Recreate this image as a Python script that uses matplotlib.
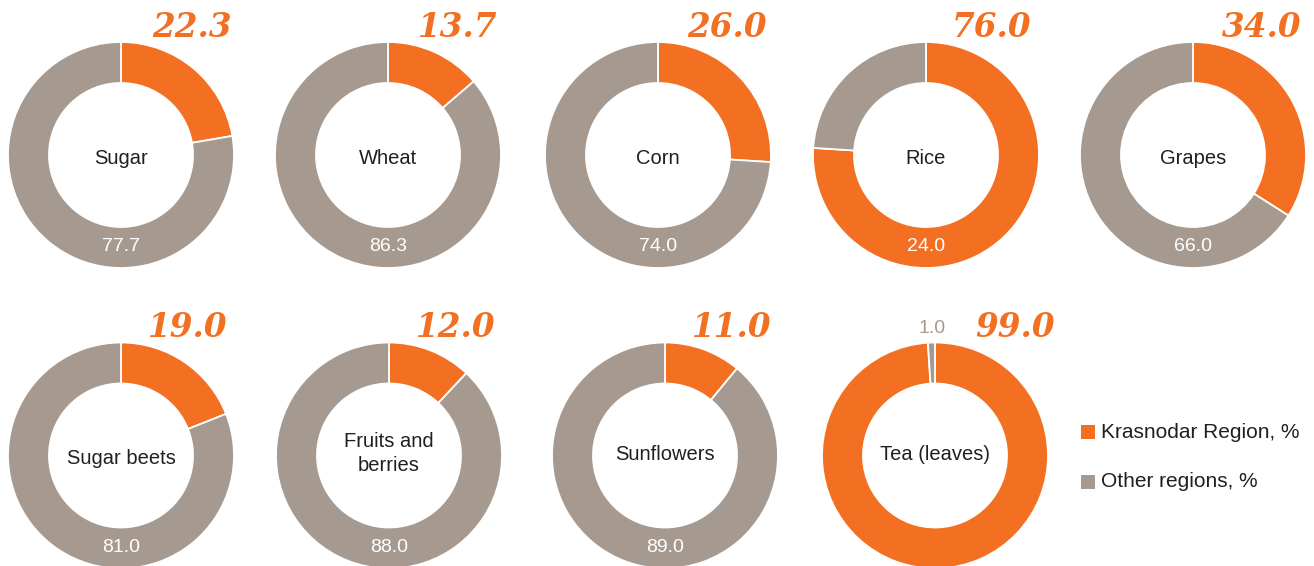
import matplotlib
matplotlib.use("Agg")
import matplotlib.pyplot as plt
from matplotlib.patches import Rectangle

# ---- data ----
categories = ["Sugar", "Wheat", "Corn", "Rice", "Grapes",
              "Sugar beets", "Fruits and\nberries", "Sunflowers", "Tea (leaves)"]
krasnodar = [22.3, 13.7, 26.0, 76.0, 34.0, 19.0, 12.0, 11.0, 99.0]
other = [77.7, 86.3, 74.0, 24.0, 66.0, 81.0, 88.0, 89.0, 1.0]
legend_labels = ["Krasnodar Region, %", "Other regions, %"]

# ---- style / layout (pixel coordinates, y down) ----
W, H = 1314, 566
ORANGE = "#F36F21"
GRAY = "#A69A90"
centers = [(121, 155), (388, 155), (658, 155), (926, 155), (1193, 155),
           (121, 455.5), (389, 455.5), (665, 455.5), (935, 455.5)]
big_dx = [31, 30, 29, 26, 29, 27, 27, 27, 40]
name_base = [164, 164, 164, 164, 164, 464, None, 460, 460]
R_OUT, R_IN = 113, 72
SANS = ["Liberation Sans", "DejaVu Sans"]

fig = plt.figure(figsize=(W / 100, H / 100), dpi=100)
ax = fig.add_axes([0, 0, 1, 1])

for i, cat in enumerate(categories):
    cx, cy = centers[i]
    y = H - cy
    ax.pie([krasnodar[i], other[i]], center=(cx, y), radius=R_OUT,
           startangle=90, counterclock=False, colors=[ORANGE, GRAY],
           wedgeprops=dict(width=R_OUT - R_IN, edgecolor="white", linewidth=1.3),
           frame=True)
    if name_base[i] is None:
        ax.text(cx, y + 2, cat, ha="center", va="center", fontsize=14.5,
                color="#231F20", family=SANS, linespacing=1.3)
    else:
        ax.text(cx, H - name_base[i], cat, ha="center", va="baseline", fontsize=14.5,
                color="#231F20", family=SANS)
    # big Krasnodar value
    big_base = H - (37 if cy < 300 else 337)
    ax.text(cx + big_dx[i], big_base, f"{krasnodar[i]:.1f}", ha="left", va="baseline",
            fontsize=23.5, fontweight="bold", fontstyle="italic",
            family="DejaVu Serif", color=ORANGE)
    # other regions value
    if other[i] >= 5:
        ax.text(cx, y - (R_OUT + R_IN) / 2 + 1, f"{other[i]:.1f}", ha="center",
                va="center", fontsize=14, color="white", family=SANS)
    else:
        ax.text(cx - 3, H - 333, f"{other[i]:.1f}", ha="center", va="baseline",
                fontsize=14, color=GRAY, family=SANS)

# legend
for j, (lab, col) in enumerate(zip(legend_labels, [ORANGE, GRAY])):
    ly = 432 + j * 49.5
    ax.add_patch(Rectangle((1081, H - ly - 7), 14, 14, facecolor=col, edgecolor="none"))
    ax.text(1101, H - ly, lab, ha="left", va="center", fontsize=15,
            color="#231F20", family=SANS)

ax.set_xlim(0, W)
ax.set_ylim(0, H)
ax.set_aspect("equal")
ax.axis("off")
fig.savefig("out.png", dpi=100, facecolor="white")
